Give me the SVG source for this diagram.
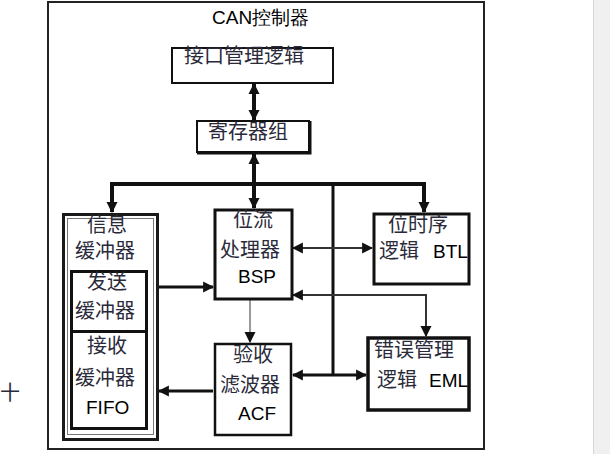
<svg xmlns="http://www.w3.org/2000/svg" width="610" height="454" viewBox="0 0 610 454">
<style>
.cj{font-family:"Noto Sans CJK SC",sans-serif;font-size:20px;fill:#2a2a3a}
.la{font-family:"Liberation Sans",Arial,sans-serif;font-size:19px;fill:#000}
.box{fill:#fff;stroke:#111}
.thick{stroke:#111;stroke-width:4;fill:none}
.mid{stroke:#111;stroke-width:3;fill:none}
.thin{stroke:#333;stroke-width:2;fill:none}
</style>
<defs>
<marker id="ah" viewBox="0 0 10 10" refX="9" refY="5" markerWidth="11" markerHeight="12" markerUnits="userSpaceOnUse" orient="auto-start-reverse">
<path d="M0,0 L10,5 L0,10 z" fill="#111"/>
</marker>
</defs>
<rect x="0" y="0" width="610" height="454" fill="#fff"/>
<rect x="593" y="0" width="17" height="454" fill="#f0f0f0"/>
<line x1="593.5" y1="0" x2="593.5" y2="454" stroke="#d8d8d8"/>
<text x="0" y="400" class="cj" font-size="18" fill="#333">十</text>
<g id="frame">
<rect x="48" y="2" width="436" height="447" fill="none" stroke="#222" stroke-width="2"/>
<text x="212" y="24" class="la">CAN控制器</text>
</g>
<g id="connectors">
<line x1="254" y1="84" x2="254" y2="120" class="thick" marker-start="url(#ah)" marker-end="url(#ah)"/>
<line x1="254" y1="154" x2="254" y2="208" class="thick" marker-start="url(#ah)" marker-end="url(#ah)"/>
<path d="M112,212 V184 H424 V212" class="thick" marker-start="url(#ah)" marker-end="url(#ah)"/>
<line x1="333" y1="184" x2="333" y2="375" class="mid"/>
<line x1="293" y1="375" x2="366" y2="375" class="mid" marker-start="url(#ah)" marker-end="url(#ah)"/>
<line x1="293" y1="248" x2="372" y2="248" class="thin" marker-start="url(#ah)" marker-end="url(#ah)"/>
<path d="M293,295 H426 V336" class="thin" marker-start="url(#ah)" marker-end="url(#ah)"/>
<line x1="250" y1="300" x2="250" y2="342" stroke="#9a9a9a" stroke-width="2" marker-end="url(#ah)"/>
<line x1="159" y1="287" x2="213" y2="287" class="mid" marker-end="url(#ah)"/>
<line x1="213" y1="391" x2="159" y2="391" class="mid" marker-end="url(#ah)"/>
</g>
<g id="interface">
<rect x="172" y="48" width="161" height="35" class="box" stroke="#444" stroke-width="2"/>
<text x="184" y="63" class="cj">接口管理逻辑</text>
</g>
<g id="registers">
<rect x="197" y="121" width="112" height="31" class="box" stroke-width="2"/>
<path d="M310,121 V153 H197" fill="none" stroke="#111" stroke-width="3"/>
<text x="208" y="139" class="cj">寄存器组</text>
</g>
<g id="msgbuf">
<rect x="63.5" y="214.5" width="94" height="225" fill="#fff" stroke="#1a1a1a" stroke-width="3"/>
<rect x="67.5" y="218.5" width="86" height="216" fill="none" stroke="#777" stroke-width="1"/>
<text x="87" y="232" class="cj">信息</text>
<text x="75" y="258" class="cj">缓冲器</text>
</g>
<g id="txbuf">
<rect x="71.5" y="271.5" width="75" height="60" fill="#fff" stroke="#111" stroke-width="3"/>
<text x="87" y="289" class="cj">发送</text>
<text x="75" y="318" class="cj">缓冲器</text>
</g>
<g id="rxbuf">
<rect x="71.5" y="331.5" width="75" height="97" fill="#fff" stroke="#111" stroke-width="3"/>
<text x="87" y="353" class="cj">接收</text>
<text x="75" y="385" class="cj">缓冲器</text>
<text x="86" y="414" class="la">FIFO</text>
</g>
<g id="bsp">
<rect x="215" y="210" width="77" height="89" class="box" stroke-width="3"/>
<text x="233" y="227" class="cj">位流</text>
<text x="220" y="257" class="cj">处理器</text>
<text x="238" y="283" class="la">BSP</text>
</g>
<g id="btl">
<rect x="374" y="214" width="95" height="70" class="box" stroke-width="3"/>
<text x="388" y="232" class="cj">位时序</text>
<text x="379" y="258" class="cj">逻辑</text>
<text x="433" y="258" class="la">BTL</text>
</g>
<g id="acf">
<rect x="215" y="344" width="76" height="91" class="box" stroke="#333" stroke-width="2.5"/>
<text x="233" y="362" class="cj">验收</text>
<text x="220" y="392" class="cj">滤波器</text>
<text x="238" y="420" class="la">ACF</text>
</g>
<g id="eml">
<rect x="368" y="338" width="101" height="72" class="box" stroke-width="3.5"/>
<text x="374" y="357" class="cj">错误管理</text>
<text x="377" y="387" class="cj">逻辑</text>
<text x="429" y="387" class="la">EML</text>
</g>
</svg>
